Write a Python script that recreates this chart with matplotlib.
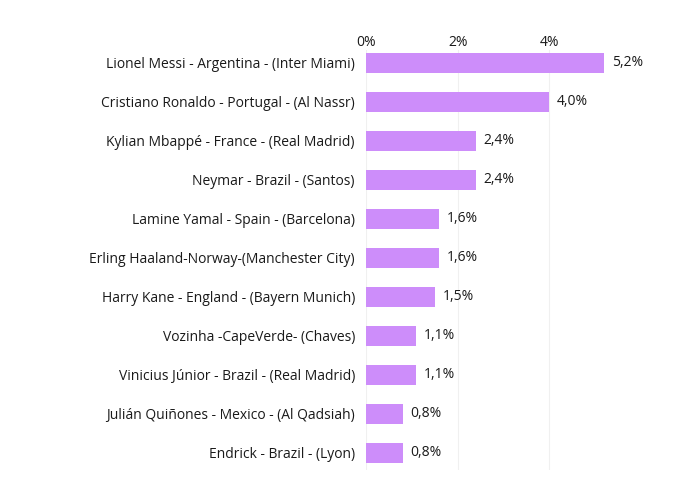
import matplotlib

matplotlib.use('Agg')

import matplotlib.pyplot as plt
import matplotlib.ticker as ticker

players = [
    'Lionel Messi - Argentina - (Inter Miami)',
    'Cristiano Ronaldo - Portugal - (Al Nassr)',
    'Kylian Mbappé - France - (Real Madrid)',
    'Neymar - Brazil - (Santos)',
    'Lamine Yamal - Spain - (Barcelona)',
    'Erling Haaland-Norway-(Manchester City)',
    'Harry Kane - England - (Bayern Munich)',
    'Vozinha -CapeVerde- (Chaves)',
    'Vinicius Júnior - Brazil - (Real Madrid)',
    'Julián Quiñones - Mexico - (Al Qadsiah)',
    'Endrick - Brazil - (Lyon)',
]
shares = [5.2, 4.0, 2.4, 2.4, 1.6, 1.6, 1.5, 1.1, 1.1, 0.8, 0.8]
x_ticks = [0, 2, 4]

plt.rcParams['font.family'] = ['Open Sans', 'DejaVu Sans']

W, H = 700, 501
fig = plt.figure(figsize=(W / 100, H / 100), dpi=100)
ax = fig.add_axes([366 / W, 1 - 470 / H, (640 - 366) / W, (470 - 50) / H])

y = list(range(len(players)))
ax.barh(y, shares, height=0.52, color='#cd8dfa', zorder=2)
for yi, v in zip(y, shares):
    ax.text(v + 0.17, yi, f'{v:.1f}%'.replace('.', ','), va='center', ha='left',
            fontsize=10, color='#1a1a1a')

ax.set_ylim(10.44, -0.33)
ax.set_xlim(0, 5.98)
ax.set_yticks(y)
ax.set_yticklabels(players, fontsize=10, color='#1a1a1a')
ax.set_xticks(x_ticks)
ax.xaxis.set_major_formatter(ticker.FuncFormatter(lambda v, _: f'{v:.0f}%'))
ax.xaxis.tick_top()
ax.tick_params(axis='x', length=0, pad=0, labelsize=10, labelcolor='#1a1a1a')
ax.tick_params(axis='y', length=0, pad=8)
ax.grid(True, axis='x', color='#f0f0f0', lw=0.8, zorder=0)
for s in ax.spines.values():
    s.set_visible(False)

fig.savefig('out.png', dpi=100)
